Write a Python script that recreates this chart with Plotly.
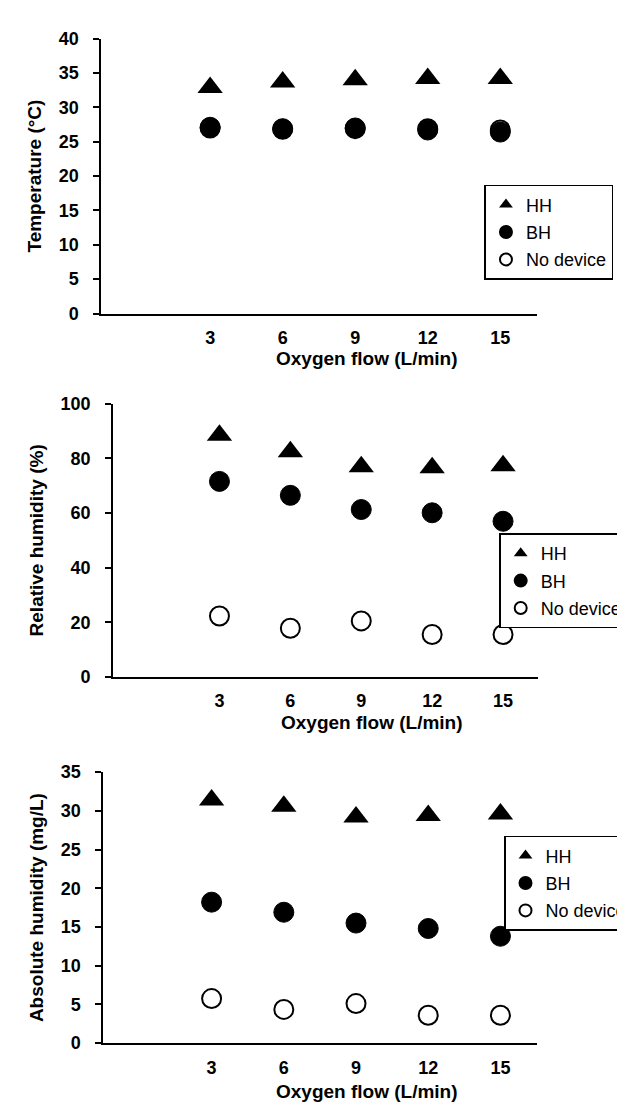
import plotly.graph_objects as go

# ---- data ----
flow = [3, 6, 9, 12, 15]
flow_labels = ["3", "6", "9", "12", "15"]

temp_hh = [32.9, 33.7, 34.0, 34.2, 34.2]
temp_bh = [27.1, 26.9, 27.0, 26.7, 26.4]
temp_none = [27.0, 26.8, 26.9, 26.9, 26.7]

rh_hh = [88.5, 82.5, 77.0, 76.6, 77.3]
rh_bh = [71.6, 66.5, 61.3, 60.1, 57.0]
rh_none = [22.3, 17.8, 20.5, 15.5, 15.5]

ah_hh = [31.4, 30.6, 29.2, 29.4, 29.6]
ah_bh = [18.2, 16.9, 15.5, 14.8, 13.8]
ah_none = [5.75, 4.35, 5.1, 3.6, 3.6]

series_names = ["HH", "BH", "No device"]
y_titles = ["Temperature (°C)", "Relative humidity (%)", "Absolute humidity (mg/L)"]
x_title = "Oxygen flow (L/min)"

FONT = "Liberation Sans, Arial, Helvetica, sans-serif"
W, H = 625, 1104

panels = [
    dict(hh=temp_hh, bh=temp_bh, none=temp_none, yr=[0, 40], dt=5,
         px=(95, 538), py=(21, 301), legend=(485, 170), xt=(365, 347)),
    dict(hh=rh_hh, bh=rh_bh, none=rh_none, yr=[0, 100], dt=20,
         px=(107, 540), py=(393, 671), legend=(500, 525), xt=(371, 718)),
    dict(hh=ah_hh, bh=ah_bh, none=ah_none, yr=[0, 35], dt=5,
         px=(97, 538), py=(768, 1044), legend=(505, 833), xt=(365, 1093)),
]

fig = go.Figure()
layout = dict(
    width=W, height=H, margin=dict(l=0, r=0, t=0, b=0),
    paper_bgcolor="white", plot_bgcolor="white",
    font=dict(family=FONT, color="black"),
    showlegend=True, annotations=[],
)

for i, p in enumerate(panels):
    n = "" if i == 0 else str(i + 1)
    xa, ya = "x" + n, "y" + n
    lg = "legend" + n
    # No device drawn first so the filled BH circles sit on top
    fig.add_trace(go.Scatter(
        x=flow, y=p["none"], mode="markers", name=series_names[2],
        xaxis=xa, yaxis=ya, legend=lg, legendrank=3, legendgroup=f"n{i}",
        marker=dict(symbol="circle", size=19, color="white",
                    line=dict(color="black", width=2))))
    fig.add_trace(go.Scatter(
        x=flow, y=p["bh"], mode="markers", name=series_names[1],
        xaxis=xa, yaxis=ya, legend=lg, legendrank=2, legendgroup=f"b{i}",
        marker=dict(symbol="circle", size=20, color="black",
                    line=dict(color="black", width=1))))
    fig.add_trace(go.Scatter(
        x=flow, y=p["hh"], mode="markers", name=series_names[0],
        xaxis=xa, yaxis=ya, legend=lg, legendrank=1, legendgroup=f"h{i}",
        marker=dict(symbol="triangle-up", size=22, color="black",
                    line=dict(color="black", width=0))))

    x0, x1 = p["px"]
    y0, y1 = p["py"]
    layout["xaxis" + n] = dict(
        domain=[x0 / W, x1 / W], anchor=ya, range=[-1.5, 16.5],
        tickvals=flow, ticktext=flow_labels, ticks="",
        showline=True, linecolor="black", linewidth=2,
        showgrid=False, zeroline=False, ticklabelstandoff=7,
        tickfont=dict(family=FONT, size=18, weight="bold", color="black"))
    layout["yaxis" + n] = dict(
        domain=[1 - y1 / H, 1 - y0 / H], anchor=xa, range=p["yr"], dtick=p["dt"],
        ticks="outside", ticklen=6, tickwidth=2, tickcolor="black",
        showline=True, linecolor="black", linewidth=2,
        showgrid=False, zeroline=False, ticklabelstandoff=11,
        tickfont=dict(family=FONT, size=18, weight="bold", color="black"),
        title=dict(text=y_titles[i], standoff=12,
                   font=dict(family=FONT, size=19, weight="bold", color="black")))
    lx, ly = p["legend"]
    layout[lg] = dict(
        x=lx / W, y=1 - ly / H, xanchor="left", yanchor="top",
        bgcolor="white", bordercolor="black", borderwidth=1.5,
        font=dict(family=FONT, size=18, color="black"),
        tracegroupgap=1, itemsizing="constant")
    tx, ty = p["xt"]
    layout["annotations"].append(dict(
        text=x_title, x=tx / W, y=1 - ty / H, xref="paper", yref="paper",
        xanchor="center", yanchor="middle", showarrow=False,
        font=dict(family=FONT, size=19, weight="bold", color="black")))

fig.update_layout(**layout)
fig.write_html("out.html")
